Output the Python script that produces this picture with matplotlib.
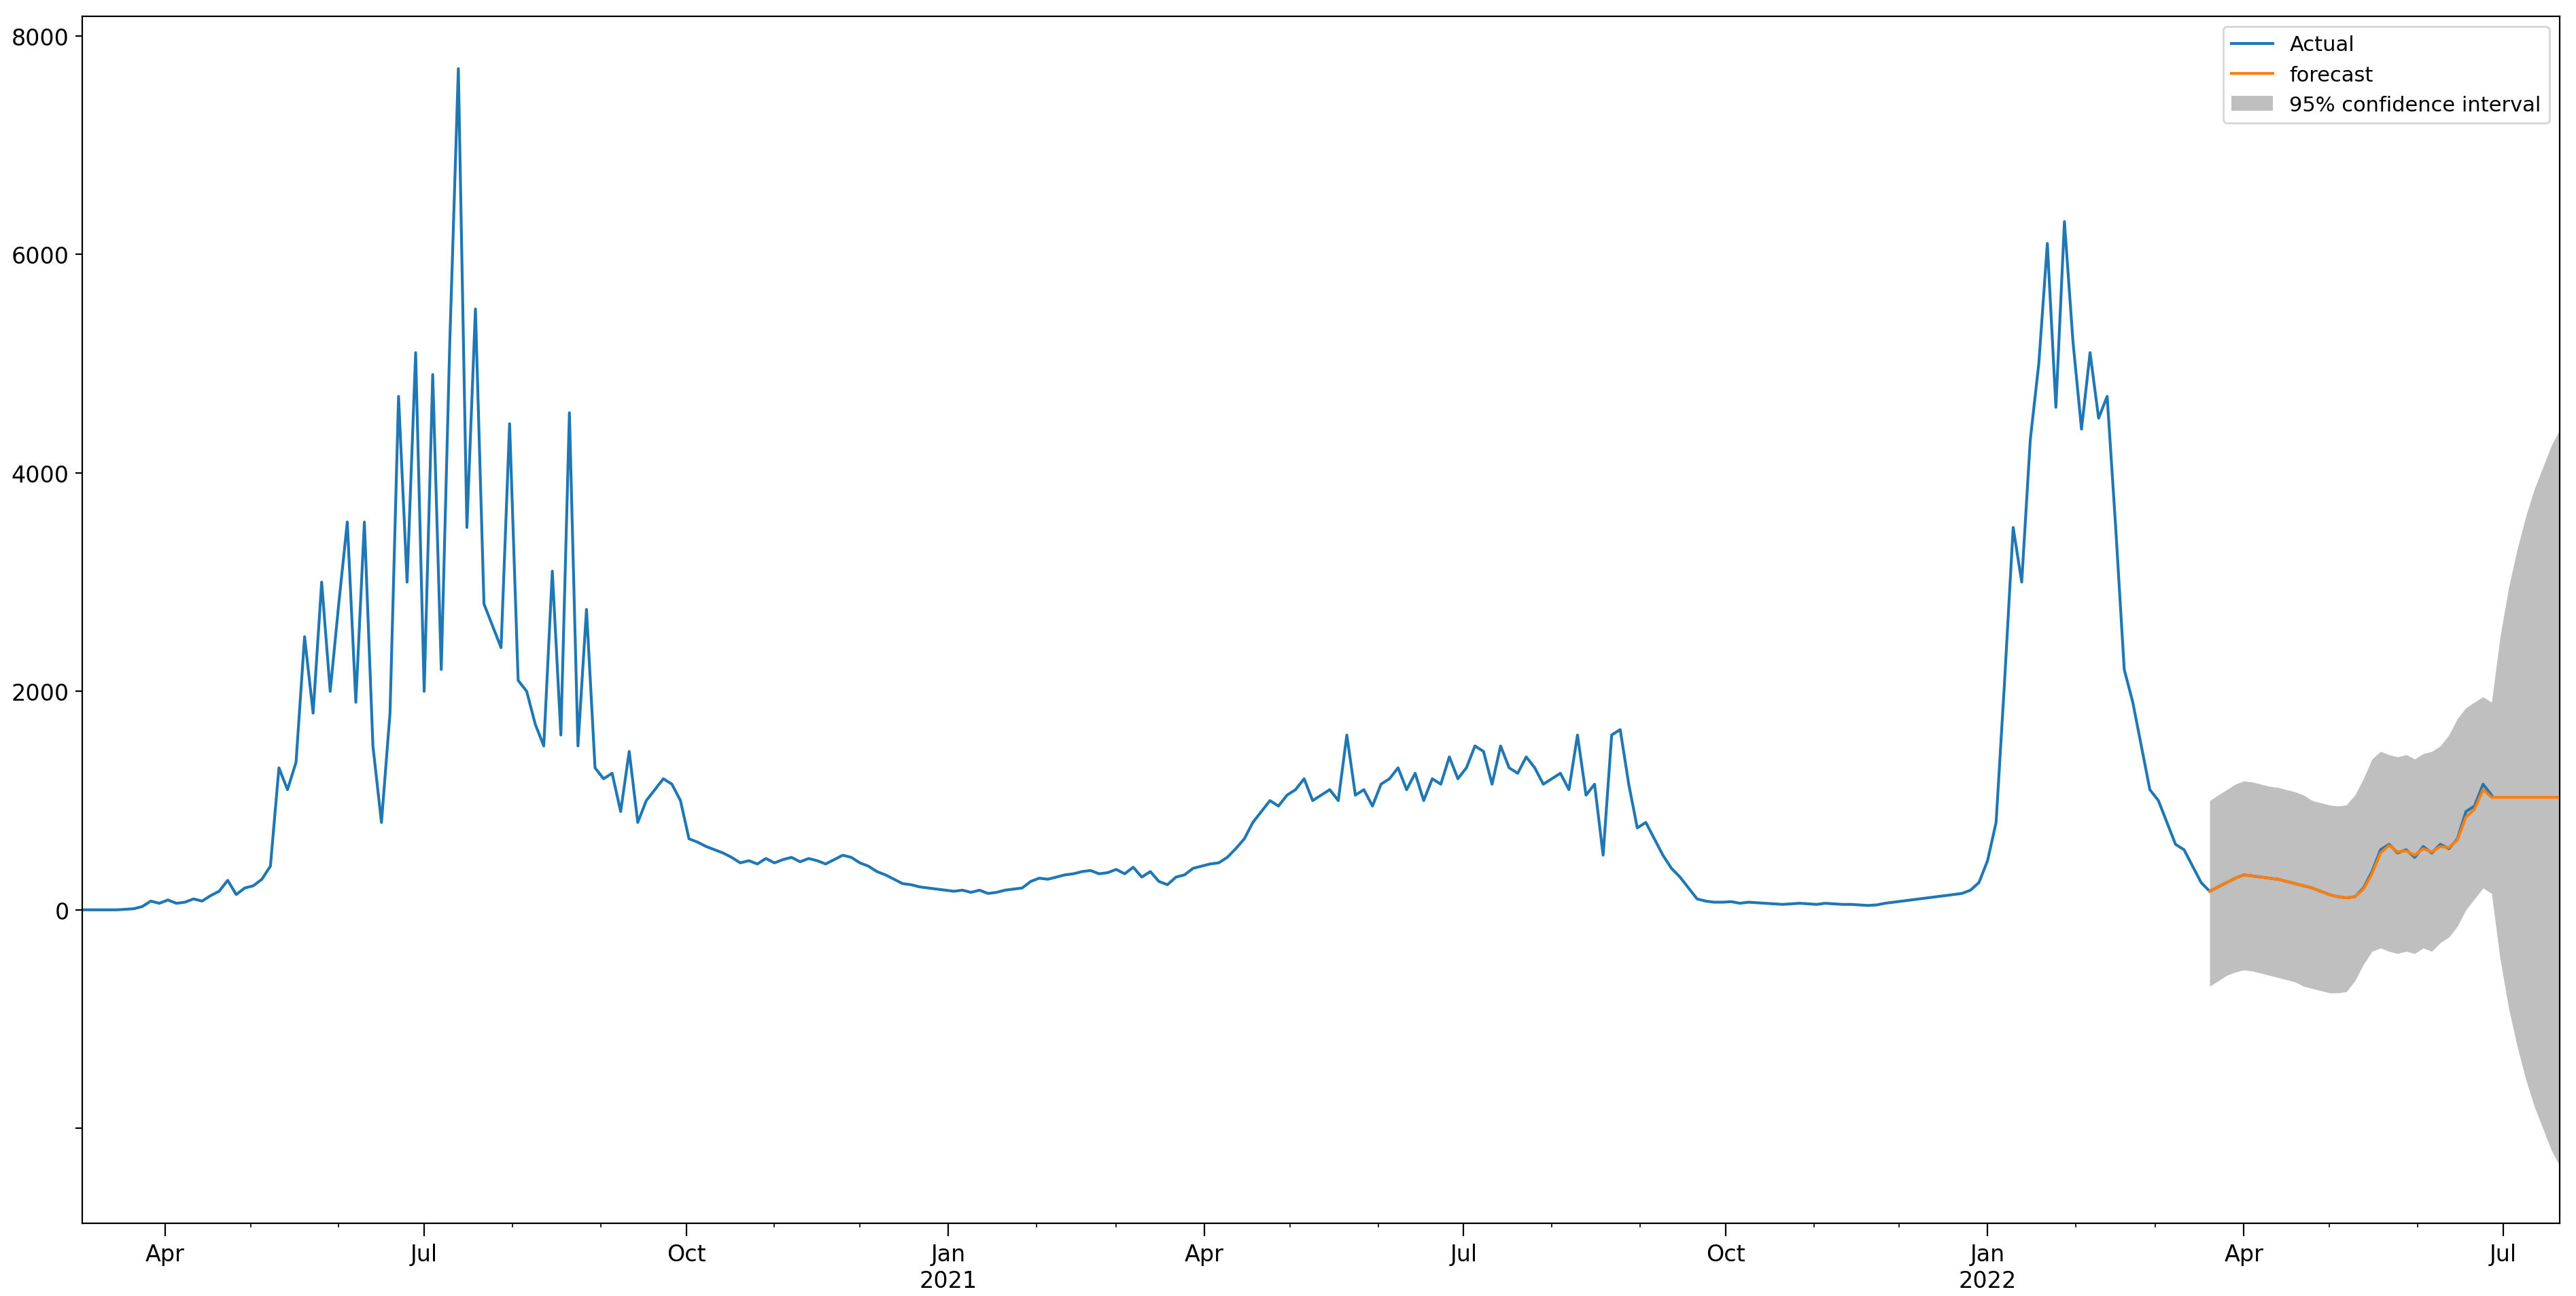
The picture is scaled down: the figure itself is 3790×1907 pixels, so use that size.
import numpy as np
import pandas as pd
import matplotlib
matplotlib.use("Agg")
import matplotlib.pyplot as plt
import matplotlib.dates as mdates

# --- Data (3-day steps) ---
actual_start = "2020-03-03"
actual_values = [
    0, 0, 0, 0, 0, 5, 10, 30, 80, 60,
    90, 60, 70, 100, 80, 130, 170, 270, 140, 200,
    220, 280, 400, 1300, 1100, 1350, 2500, 1800, 3000, 2000,
    2800, 3550, 1900, 3550, 1500, 800, 1800, 4700, 3000, 5100,
    2000, 4900, 2200, 5200, 7700, 3500, 5500, 2800, 2600, 2400,
    4450, 2100, 2000, 1700, 1500, 3100, 1600, 4550, 1500, 2750,
    1300, 1200, 1250, 900, 1450, 800, 1000, 1100, 1200, 1150,
    1000, 650, 620, 580, 550, 520, 480, 430, 450, 420,
    470, 430, 460, 480, 440, 470, 450, 420, 460, 500,
    480, 430, 400, 350, 320, 280, 240, 230, 210, 200,
    190, 180, 170, 180, 160, 180, 150, 160, 180, 190,
    200, 260, 290, 280, 300, 320, 330, 350, 360, 330,
    340, 370, 330, 390, 300, 350, 260, 230, 300, 320,
    380, 400, 420, 430, 480, 560, 650, 800, 900, 1000,
    950, 1050, 1100, 1200, 1000, 1050, 1100, 1000, 1600, 1050,
    1100, 950, 1150, 1200, 1300, 1100, 1250, 1000, 1200, 1150,
    1400, 1200, 1300, 1500, 1450, 1150, 1500, 1300, 1250, 1400,
    1300, 1150, 1200, 1250, 1100, 1600, 1050, 1150, 500, 1600,
    1650, 1150, 750, 800, 650, 500, 380, 300, 200, 100,
    80, 70, 70, 75, 60, 70, 65, 60, 55, 50,
    55, 60, 55, 50, 60, 55, 50, 50, 45, 40,
    45, 60, 70, 80, 90, 100, 110, 120, 130, 140,
    150, 180, 250, 450, 800, 2100, 3500, 3000, 4300, 5000,
    6100, 4600, 6300, 5200, 4400, 5100, 4500, 4700, 3500, 2200,
    1900, 1500, 1100, 1000, 800, 600, 550, 400, 250, 170,
    210, 250, 290, 320, 310, 300, 290, 280, 260, 240,
    220, 200, 170, 140, 120, 110, 120, 200, 350, 550,
    600, 520, 550, 480, 580, 520, 600, 560, 650, 900,
    950, 1150, 1050,
]

forecast_start = "2022-03-20"
forecast_values = [
    170, 210, 250, 290, 320, 310, 300, 290, 280, 260,
    240, 220, 200, 170, 140, 120, 110, 120, 190, 330,
    520, 590, 530, 540, 500, 560, 530, 580, 570, 640,
    850, 920, 1100, 1030,
    1030, 1030, 1030, 1030, 1030, 1030, 1030, 1030,
]
ci_upper = [
    1000, 1050, 1100, 1150, 1180, 1170, 1150, 1130, 1120, 1100,
    1080, 1050, 1000, 980, 960, 950, 960, 1050, 1200, 1380,
    1450, 1420, 1400, 1420, 1380, 1430, 1450, 1500, 1600, 1750,
    1850, 1900, 1950, 1900,
    2500, 2950, 3300, 3600, 3850, 4050, 4250, 4400,
]
ci_lower = [
    -700, -650, -600, -570, -550, -560, -580, -600, -620, -640,
    -660, -700, -720, -740, -760, -760, -750, -650, -500, -380,
    -350, -380, -400, -380, -400, -350, -380, -300, -250, -150,
    0, 100, 200, 150,
    -450, -900, -1250, -1550, -1800, -2000, -2200, -2350,
]

actual_dates = pd.date_range(actual_start, periods=len(actual_values), freq="3D")
fc_dates = pd.date_range(forecast_start, periods=len(forecast_values), freq="3D")

# --- Plot ---
fig = plt.figure(figsize=(18.955, 9.54), dpi=200)
ax = fig.add_axes([0.032, 0.056, 0.9615, 0.931])

ax.plot(actual_dates, actual_values, color="#1f77b4", lw=1.5, label="Actual")
ax.plot(fc_dates, forecast_values, color="#ff7f0e", lw=1.5, label="forecast")
ax.fill_between(fc_dates, ci_lower, ci_upper, color="gray", alpha=0.5,
                lw=0, label="95% confidence interval")

ax.set_xlim(pd.Timestamp("2020-03-03"), pd.Timestamp("2022-07-21"))
ax.set_ylim(-2870, 8180)
ax.set_yticks([-2000, 0, 2000, 4000, 6000, 8000])
ax.set_yticklabels(["", "0", "2000", "4000", "6000", "8000"])

major = pd.date_range("2020-04-01", "2022-07-01", freq="QS")
labels = []
for d in major:
    labels.append(d.strftime("%b") + ("\n" + str(d.year) if d.month == 1 else ""))
ax.set_xticks(major)
ax.set_xticklabels(labels)
ax.xaxis.set_minor_locator(mdates.MonthLocator())
ax.tick_params(labelsize=12)
ax.tick_params(axis="x", which="major", length=7)

ax.legend(loc="upper right", fontsize=11)

fig.savefig("out.png", dpi=200)
